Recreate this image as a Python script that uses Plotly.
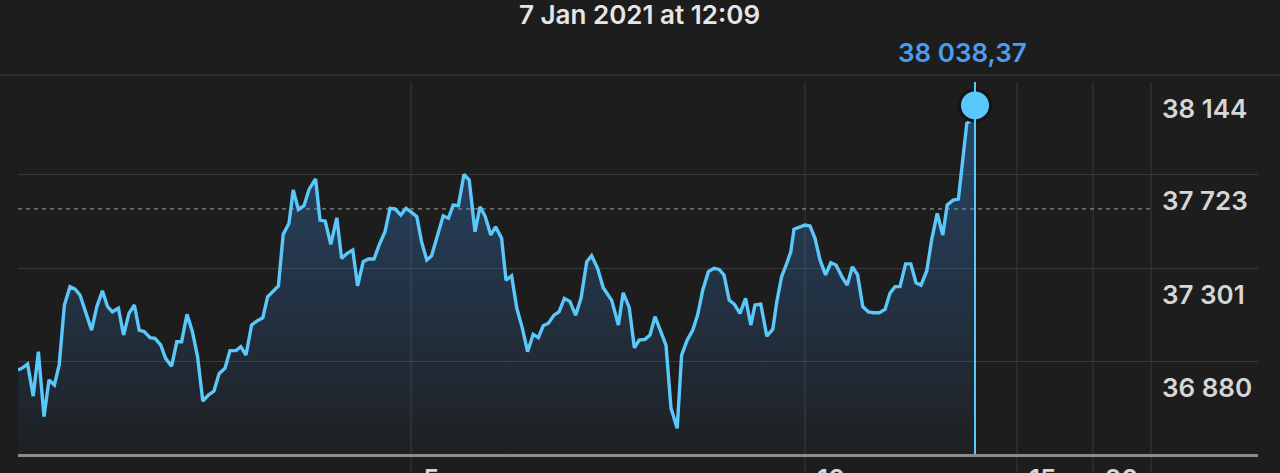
import plotly.graph_objects as go

# ---- data ----
times = [0, 1.3, 2.4, 3.8, 5.1, 6.5, 7.75, 9.1, 10.3, 11.6,
         13, 14.25, 15.5, 16.9, 18.4, 19.7, 21.1, 22.4, 23.6, 25.1,
         26.4, 27.75, 29.1, 30.3, 31.6, 33, 34.25, 35.7, 36.9, 38.4,
         39.7, 40.9, 42.25, 43.6, 44.9, 46.2, 47.6, 49, 50.3, 51.75,
         53, 54.5, 55.7, 57, 58.4, 59.7, 61.2, 62.4, 63.8, 65.1,
         66.3, 67.75, 68.8, 70.1, 71.5, 72.8, 74.4, 75.5, 76.8, 78.2,
         79.7, 80.9, 82.3, 83.7, 84.9, 86.3, 87.6, 89, 90.3, 91.75,
         93, 94.25, 95.7, 97, 98.25, 99.7, 100.9, 102.2, 103.4, 104.9,
         106.3, 107.6, 108.8, 110.1, 111.5, 112.8, 114.25, 115.5, 116.75, 118.2,
         119.4, 120.9, 122, 123.4, 124.7, 126.1, 127.4, 128.8, 130.1, 131.3,
         132.6, 134, 135.25, 136.6, 138, 139.4, 140.75, 142.2, 143.4, 144.9,
         146.3, 148.4, 150.1, 151.3, 152.8, 154.1, 155.3, 156.75, 158, 159.25,
         160.5, 162, 163.25, 164.8, 165.9, 167.3, 168.7, 169.9, 171.2, 172.6,
         174, 175.3, 176.5, 177.8, 179.1, 180.5, 181.9, 183.2, 184.25, 185.7,
         187.2, 188.7, 189.7, 190.9, 192.2, 193.2, 194, 195.5, 196.75, 198,
         199.25, 200.5, 201.9, 203.2, 204.5, 205.9, 207.3, 208.6, 209.9, 211.2,
         212.6, 213.8, 215.3, 216.75, 218, 219.25, 220.5, 221.9, 223.2, 224.5,
         225.75, 227.2, 228.4, 229.8, 231.2, 232.3, 233.8, 235.1, 236.2, 237.2,
         238.4, 239.25]

prices = [36839, 36851, 36866, 36721, 36922, 36628, 36794, 36771, 36862, 37134,
          37217, 37206, 37179, 37103, 37020, 37126, 37198, 37126, 37103, 37119,
          36998, 37096, 37134, 37020, 37013, 36986, 36983, 36952, 36892, 36857,
          36967, 36967, 37092, 37013, 36899, 36699, 36726, 36744, 36824, 36847,
          36927, 36927, 36945, 36907, 37043, 37061, 37076, 37171, 37197, 37220,
          37454, 37504, 37655, 37567, 37584, 37659, 37705, 37519, 37514, 37409,
          37529, 37345, 37368, 37383, 37221, 37330, 37342, 37342, 37406, 37466,
          37572, 37569, 37541, 37572, 37556, 37534, 37420, 37338, 37357, 37451,
          37538, 37527, 37587, 37584, 37726, 37700, 37466, 37579, 37538, 37451,
          37488, 37436, 37247, 37266, 37119, 37028, 36922, 37001, 36986, 37040,
          37051, 37088, 37103, 37164, 37149, 37088, 37164, 37330, 37357, 37300,
          37212, 37156, 37043, 37189, 37123, 36940, 36975, 36978, 36998, 37081,
          37024, 36952, 36666, 36575, 36907, 36975, 37020, 37088, 37202, 37285,
          37300, 37295, 37270, 37156, 37137, 37096, 37164, 37043, 37134, 37138,
          36993, 37024, 37149, 37262, 37323, 37375, 37477, 37488, 37496, 37492,
          37436, 37338, 37270, 37325, 37315, 37265, 37224, 37307, 37270, 37126,
          37103, 37099, 37099, 37114, 37187, 37217, 37217, 37320, 37320, 37235,
          37224, 37289, 37428, 37549, 37451, 37587, 37609, 37614, 37783, 37957,
          37972, 38038.37]

assert len(times) == len(prices)

x_tick_vals = [98.25, 196.75, 249.75, 268.75]
x_tick_labels = ["5", "10", "15", "20"]
plot_edge = 283.25          # right border of the price area
x_range = [0, 310]

y_tick_vals = [38144, 37723, 37301, 36880]
y_tick_labels = ["38 144", "37 723", "37 301", "36 880"]
y_range = [36458.7, 38144.3]

previous_close = 37569
title_text = "7 Jan 2021 at 12:09"
value_text = "38 038,37"

# ---- styles ----
BG = "#1d1d1d"
LINE = "#5ac8fa"
GRID = "#3a3a3a"
FONT = "Inter"
FS = 26

fig = go.Figure()

fig.add_trace(go.Scatter(
    x=times, y=prices, mode="lines",
    line=dict(color=LINE, width=3.4),
    fill="tozeroy",
    fillgradient=dict(
        type="vertical",
        start=y_range[0], stop=max(prices),
        colorscale=[[0, "rgba(60,140,230,0.03)"], [1, "rgba(60,140,230,0.38)"]],
    ),
    hoverinfo="skip", showlegend=False,
))

# vertical cursor line at last point
fig.add_shape(type="line", xref="x", yref="paper",
              x0=times[-1], x1=times[-1], y0=0, y1=1,
              line=dict(color=LINE, width=2), layer="above")

fig.add_trace(go.Scatter(
    x=[times[-1]], y=[prices[-1]], mode="markers",
    marker=dict(size=31, color=LINE, line=dict(color="#141414", width=3)),
    hoverinfo="skip", showlegend=False,
))

# previous close dashed line
fig.add_shape(type="line", xref="x", yref="y",
              x0=x_range[0], x1=plot_edge, y0=previous_close, y1=previous_close,
              line=dict(color="#8a8a8a", width=1.3, dash="4px,4px"), layer="below")

# vertical grid lines (extend below axis)
for xv in x_tick_vals + [plot_edge]:
    fig.add_shape(type="line", xref="x", yref="paper",
                  x0=xv, x1=xv, y0=-0.06, y1=1,
                  line=dict(color=GRID, width=1), layer="below")

# separator line above plot
fig.add_shape(type="line", xref="paper", yref="paper",
              x0=-0.02, x1=1.02, y0=1.019, y1=1.019,
              line=dict(color="#2c2c2c", width=2), layer="below")

annotations = []
annotations.append(dict(text=title_text, xref="paper", yref="paper",
                        x=0.5016, y=1, yshift=68, showarrow=False,
                        xanchor="center", yanchor="middle",
                        font=dict(family=FONT, size=FS, color="#e6e6e6", weight=600)))
annotations.append(dict(text=value_text, xref="x", yref="paper",
                        x=times[-1], y=1, xshift=-13, yshift=30, showarrow=False,
                        xanchor="center", yanchor="middle",
                        font=dict(family=FONT, size=FS, color="#4a9ef0", weight=600)))
for v, lab in zip(y_tick_vals, y_tick_labels):
    annotations.append(dict(text=lab, xref="paper", yref="y",
                            x=(1160 - 18) / 1240, y=v, yshift=-26, showarrow=False,
                            xanchor="left", yanchor="middle",
                            font=dict(family=FONT, size=FS, color="#d6d6d6", weight=600)))
for v, lab in zip(x_tick_vals, x_tick_labels):
    annotations.append(dict(text=lab, xref="x", yref="paper",
                            x=v, y=0, xshift=10, yshift=-7, showarrow=False,
                            xanchor="left", yanchor="top",
                            font=dict(family=FONT, size=FS, color="#d6d6d6", weight=600)))

fig.update_layout(
    width=1280, height=473,
    margin=dict(l=18, r=22, t=82, b=19),
    paper_bgcolor=BG, plot_bgcolor=BG,
    annotations=annotations,
    xaxis=dict(range=x_range, showgrid=False, zeroline=False,
               showticklabels=False, ticks="",
               showline=True, linecolor="#8c8c8c", linewidth=2.5),
    yaxis=dict(range=y_range, tickvals=y_tick_vals, showticklabels=False,
               showgrid=True, gridcolor=GRID, gridwidth=1.2,
               zeroline=False, ticks=""),
)

fig.write_html("out.html",
               config={"displayModeBar": False},
               post_script="document.body.style.margin='0px';document.body.style.background='#1d1d1d';")
